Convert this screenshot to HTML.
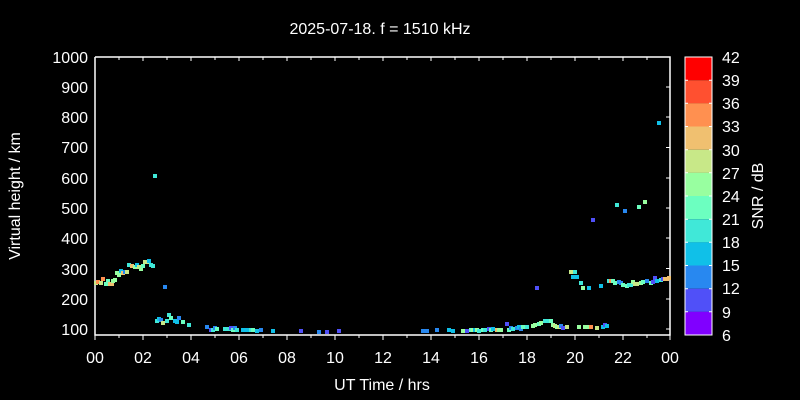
<!DOCTYPE html>
<html><head><meta charset="utf-8"><style>
html,body{margin:0;padding:0;background:#000;}
svg{display:block;}
text{font-family:"Liberation Sans",sans-serif;fill:#fff;}
</style></head><body>
<svg width="800" height="400" viewBox="0 0 800 400" xmlns="http://www.w3.org/2000/svg">
<rect width="800" height="400" fill="#000"/>
<text x="380" y="34" font-size="16" text-anchor="middle">2025-07-18. f = 1510 kHz</text>
<g stroke="#fff" stroke-width="1.5" fill="none">
<polyline points="95,57 95,335 670,335 670,57 95,57"/>
</g>
<g stroke="#fff" stroke-width="1">
<path d="M95,335v5M143,335v5M191,335v5M239,335v5M287,335v5M335,335v5M383,335v5M431,335v5M479,335v5M527,335v5M575,335v5M623,335v5M670,335v5"/>
<path d="M119,335v3M167,335v3M215,335v3M263,335v3M311,335v3M359,335v3M407,335v3M455,335v3M503,335v3M551,335v3M599,335v3M647,335v3"/>
<path d="M95,57v4M143,57v4M191,57v4M239,57v4M287,57v4M335,57v4M383,57v4M431,57v4M479,57v4M527,57v4M575,57v4M623,57v4"/>
<path d="M119,57v3M167,57v3M215,57v3M263,57v3M311,57v3M359,57v3M407,57v3M455,57v3M503,57v3M551,57v3M599,57v3M647,57v3"/>
<path d="M670,329h-4M670,299h-4M670,268.5h-4M670,238h-4M670,208h-4M670,178h-4M670,147.5h-4M670,117h-4M670,87h-4"/>
</g>
<g font-size="16" text-anchor="end">
<text x="88" y="335">100</text><text x="88" y="305">200</text><text x="88" y="275">300</text>
<text x="88" y="244">400</text><text x="88" y="214">500</text><text x="88" y="184">600</text>
<text x="88" y="153">700</text><text x="88" y="123">800</text><text x="88" y="93">900</text>
<text x="88" y="63">1000</text>
</g>
<g font-size="16" text-anchor="middle">
<text x="95" y="363">00</text><text x="143" y="363">02</text><text x="191" y="363">04</text>
<text x="239" y="363">06</text><text x="287" y="363">08</text><text x="335" y="363">10</text>
<text x="383" y="363">12</text><text x="431" y="363">14</text><text x="479" y="363">16</text>
<text x="527" y="363">18</text><text x="575" y="363">20</text><text x="623" y="363">22</text>
<text x="670" y="363">00</text>
</g>
<text x="382" y="390" font-size="16" text-anchor="middle">UT Time / hrs</text>
<text transform="translate(20,196) rotate(-90)" font-size="16" text-anchor="middle">Virtual height / km</text>
<g>
<rect x="685" y="57" width="27" height="23.2" fill="#ff0000"/>
<rect x="685" y="80.2" width="27" height="23.2" fill="#ff5030"/>
<rect x="685" y="103.3" width="27" height="23.2" fill="#ff9050"/>
<rect x="685" y="126.5" width="27" height="23.2" fill="#f0c070"/>
<rect x="685" y="149.7" width="27" height="23.2" fill="#c8e888"/>
<rect x="685" y="172.8" width="27" height="23.2" fill="#98ffa0"/>
<rect x="685" y="196" width="27" height="23.2" fill="#6cffc0"/>
<rect x="685" y="219.2" width="27" height="23.2" fill="#40e8d8"/>
<rect x="685" y="242.3" width="27" height="23.2" fill="#10c0e8"/>
<rect x="685" y="265.5" width="27" height="23.2" fill="#2888f0"/>
<rect x="685" y="288.7" width="27" height="23.2" fill="#5050f8"/>
<rect x="685" y="311.8" width="27" height="23.2" fill="#8000ff"/>
<rect x="685" y="57" width="27" height="278" fill="none" stroke="#fff" stroke-width="1"/>
<g stroke="#fff" stroke-width="1">
<path d="M685,80.2h3M685,103.3h3M685,126.5h3M685,149.7h3M685,172.8h3M685,196h3M685,219.2h3M685,242.3h3M685,265.5h3M685,288.7h3M685,311.8h3"/>
<path d="M712,80.2h-3M712,103.3h-3M712,126.5h-3M712,149.7h-3M712,172.8h-3M712,196h-3M712,219.2h-3M712,242.3h-3M712,265.5h-3M712,288.7h-3M712,311.8h-3"/>
</g>
</g>
<g font-size="16">
<text x="722" y="63">42</text><text x="722" y="86">39</text><text x="722" y="109">36</text>
<text x="722" y="132">33</text><text x="722" y="156">30</text><text x="722" y="179">27</text>
<text x="722" y="202">24</text><text x="722" y="225">21</text><text x="722" y="248">18</text>
<text x="722" y="271">15</text><text x="722" y="294">12</text><text x="722" y="318">9</text>
<text x="722" y="341">6</text>
</g>
<text transform="translate(763,196) rotate(-90)" font-size="16" text-anchor="middle">SNR / dB</text>
<g>
<rect x="94" y="281" width="4" height="4" fill="#c8e888"/>
<rect x="96" y="280" width="4" height="4" fill="#ff9050"/>
<rect x="99" y="281" width="4" height="4" fill="#c8e888"/>
<rect x="101" y="277" width="4" height="4" fill="#ff9050"/>
<rect x="104" y="282" width="4" height="4" fill="#6cffc0"/>
<rect x="106" y="279" width="4" height="4" fill="#6cffc0"/>
<rect x="108" y="282" width="4" height="4" fill="#f0c070"/>
<rect x="110" y="282" width="4" height="4" fill="#f0c070"/>
<rect x="111" y="279" width="4" height="4" fill="#98ffa0"/>
<rect x="113" y="278" width="4" height="4" fill="#98ffa0"/>
<rect x="115" y="271" width="4" height="4" fill="#98ffa0"/>
<rect x="117" y="273" width="4" height="4" fill="#98ffa0"/>
<rect x="119" y="269" width="4" height="4" fill="#10c0e8"/>
<rect x="121" y="271" width="4" height="4" fill="#f0c070"/>
<rect x="123" y="270" width="4" height="4" fill="#2888f0"/>
<rect x="125" y="270" width="4" height="4" fill="#c8e888"/>
<rect x="127" y="263" width="4" height="4" fill="#40e8d8"/>
<rect x="130" y="264" width="4" height="4" fill="#f0c070"/>
<rect x="133" y="265" width="4" height="4" fill="#98ffa0"/>
<rect x="135" y="263" width="4" height="4" fill="#10c0e8"/>
<rect x="137" y="265" width="4" height="4" fill="#c8e888"/>
<rect x="139" y="267" width="4" height="4" fill="#98ffa0"/>
<rect x="141" y="264" width="4" height="4" fill="#6cffc0"/>
<rect x="143" y="260" width="4" height="4" fill="#c8e888"/>
<rect x="145" y="260" width="4" height="4" fill="#c8e888"/>
<rect x="147" y="259" width="4" height="4" fill="#10c0e8"/>
<rect x="149" y="263" width="4" height="4" fill="#40e8d8"/>
<rect x="151" y="264" width="4" height="4" fill="#40e8d8"/>
<rect x="153" y="174" width="4" height="4" fill="#40e8d8"/>
<rect x="163" y="285" width="4" height="4" fill="#2888f0"/>
<rect x="155" y="319" width="4" height="4" fill="#40e8d8"/>
<rect x="157" y="317" width="4" height="4" fill="#10c0e8"/>
<rect x="159" y="318" width="4" height="4" fill="#2888f0"/>
<rect x="161" y="321" width="4" height="4" fill="#c8e888"/>
<rect x="165" y="319" width="4" height="4" fill="#40e8d8"/>
<rect x="167" y="313" width="4" height="4" fill="#40e8d8"/>
<rect x="169" y="316" width="4" height="4" fill="#6cffc0"/>
<rect x="173" y="319" width="4" height="4" fill="#10c0e8"/>
<rect x="175" y="320" width="4" height="4" fill="#10c0e8"/>
<rect x="177" y="316" width="4" height="4" fill="#2888f0"/>
<rect x="181" y="320" width="4" height="4" fill="#6cffc0"/>
<rect x="187" y="323" width="4" height="4" fill="#40e8d8"/>
<rect x="205" y="325" width="4" height="4" fill="#2888f0"/>
<rect x="209" y="328" width="4" height="4" fill="#5050f8"/>
<rect x="211" y="328" width="4" height="4" fill="#40e8d8"/>
<rect x="213" y="326" width="4" height="4" fill="#2888f0"/>
<rect x="215" y="327" width="4" height="4" fill="#6cffc0"/>
<rect x="223" y="327" width="4" height="4" fill="#40e8d8"/>
<rect x="227" y="327" width="4" height="4" fill="#40e8d8"/>
<rect x="229" y="326" width="4" height="4" fill="#5050f8"/>
<rect x="231" y="328" width="4" height="4" fill="#6cffc0"/>
<rect x="233" y="326" width="4" height="4" fill="#2888f0"/>
<rect x="235" y="328" width="4" height="4" fill="#40e8d8"/>
<rect x="241" y="328" width="4" height="4" fill="#10c0e8"/>
<rect x="245" y="328" width="4" height="4" fill="#10c0e8"/>
<rect x="249" y="328" width="4" height="4" fill="#40e8d8"/>
<rect x="251" y="328" width="4" height="4" fill="#6cffc0"/>
<rect x="255" y="329" width="4" height="4" fill="#10c0e8"/>
<rect x="259" y="328" width="4" height="4" fill="#2888f0"/>
<rect x="271" y="329" width="4" height="4" fill="#10c0e8"/>
<rect x="299" y="329" width="4" height="4" fill="#5050f8"/>
<rect x="317" y="330" width="4" height="4" fill="#2888f0"/>
<rect x="325" y="330" width="4" height="4" fill="#5050f8"/>
<rect x="337" y="329" width="4" height="4" fill="#5050f8"/>
<rect x="421" y="329" width="4" height="4" fill="#2888f0"/>
<rect x="425" y="329" width="4" height="4" fill="#2888f0"/>
<rect x="435" y="328" width="4" height="4" fill="#2888f0"/>
<rect x="447" y="328" width="4" height="4" fill="#10c0e8"/>
<rect x="451" y="329" width="4" height="4" fill="#10c0e8"/>
<rect x="461" y="329" width="4" height="4" fill="#98ffa0"/>
<rect x="465" y="329" width="4" height="4" fill="#5050f8"/>
<rect x="469" y="328" width="4" height="4" fill="#6cffc0"/>
<rect x="471" y="328" width="4" height="4" fill="#98ffa0"/>
<rect x="473" y="328" width="4" height="4" fill="#10c0e8"/>
<rect x="475" y="328" width="4" height="4" fill="#98ffa0"/>
<rect x="477" y="329" width="4" height="4" fill="#40e8d8"/>
<rect x="481" y="328" width="4" height="4" fill="#6cffc0"/>
<rect x="483" y="328" width="4" height="4" fill="#40e8d8"/>
<rect x="487" y="327" width="4" height="4" fill="#5050f8"/>
<rect x="489" y="328" width="4" height="4" fill="#6cffc0"/>
<rect x="491" y="327" width="4" height="4" fill="#10c0e8"/>
<rect x="495" y="328" width="4" height="4" fill="#f0c070"/>
<rect x="497" y="328" width="4" height="4" fill="#98ffa0"/>
<rect x="499" y="328" width="4" height="4" fill="#98ffa0"/>
<rect x="505" y="322" width="4" height="4" fill="#5050f8"/>
<rect x="507" y="328" width="4" height="4" fill="#6cffc0"/>
<rect x="509" y="326" width="4" height="4" fill="#2888f0"/>
<rect x="511" y="327" width="4" height="4" fill="#40e8d8"/>
<rect x="515" y="326" width="4" height="4" fill="#2888f0"/>
<rect x="517" y="325" width="4" height="4" fill="#10c0e8"/>
<rect x="519" y="327" width="4" height="4" fill="#2888f0"/>
<rect x="521" y="325" width="4" height="4" fill="#6cffc0"/>
<rect x="525" y="325" width="4" height="4" fill="#40e8d8"/>
<rect x="531" y="324" width="4" height="4" fill="#98ffa0"/>
<rect x="533" y="323" width="4" height="4" fill="#98ffa0"/>
<rect x="537" y="322" width="4" height="4" fill="#6cffc0"/>
<rect x="539" y="321" width="4" height="4" fill="#98ffa0"/>
<rect x="535" y="286" width="4" height="4" fill="#5050f8"/>
<rect x="543" y="319" width="4" height="4" fill="#40e8d8"/>
<rect x="547" y="319" width="4" height="4" fill="#40e8d8"/>
<rect x="549" y="319" width="4" height="4" fill="#6cffc0"/>
<rect x="551" y="323" width="4" height="4" fill="#98ffa0"/>
<rect x="553" y="324" width="4" height="4" fill="#c8e888"/>
<rect x="555" y="325" width="4" height="4" fill="#98ffa0"/>
<rect x="557" y="325" width="4" height="4" fill="#c8e888"/>
<rect x="559" y="324" width="4" height="4" fill="#2888f0"/>
<rect x="561" y="326" width="4" height="4" fill="#5050f8"/>
<rect x="565" y="325" width="4" height="4" fill="#c8e888"/>
<rect x="569" y="270" width="4" height="4" fill="#c8e888"/>
<rect x="573" y="270" width="4" height="4" fill="#40e8d8"/>
<rect x="571" y="275" width="4" height="4" fill="#10c0e8"/>
<rect x="575" y="275" width="4" height="4" fill="#10c0e8"/>
<rect x="577" y="325" width="4" height="4" fill="#98ffa0"/>
<rect x="579" y="281" width="4" height="4" fill="#40e8d8"/>
<rect x="581" y="286" width="4" height="4" fill="#98ffa0"/>
<rect x="583" y="325" width="4" height="4" fill="#98ffa0"/>
<rect x="585" y="325" width="4" height="4" fill="#98ffa0"/>
<rect x="587" y="286" width="4" height="4" fill="#10c0e8"/>
<rect x="589" y="325" width="4" height="4" fill="#ff9050"/>
<rect x="591" y="218" width="4" height="4" fill="#5050f8"/>
<rect x="595" y="326" width="4" height="4" fill="#c8e888"/>
<rect x="599" y="284" width="4" height="4" fill="#10c0e8"/>
<rect x="601" y="325" width="4" height="4" fill="#10c0e8"/>
<rect x="603" y="323" width="4" height="4" fill="#5050f8"/>
<rect x="605" y="324" width="4" height="4" fill="#10c0e8"/>
<rect x="607" y="279" width="4" height="4" fill="#40e8d8"/>
<rect x="609" y="279" width="4" height="4" fill="#ff9050"/>
<rect x="611" y="279" width="4" height="4" fill="#6cffc0"/>
<rect x="613" y="281" width="4" height="4" fill="#6cffc0"/>
<rect x="615" y="203" width="4" height="4" fill="#40e8d8"/>
<rect x="617" y="280" width="4" height="4" fill="#2888f0"/>
<rect x="619" y="281" width="4" height="4" fill="#2888f0"/>
<rect x="621" y="283" width="4" height="4" fill="#6cffc0"/>
<rect x="623" y="209" width="4" height="4" fill="#2888f0"/>
<rect x="625" y="284" width="4" height="4" fill="#6cffc0"/>
<rect x="627" y="283" width="4" height="4" fill="#40e8d8"/>
<rect x="629" y="283" width="4" height="4" fill="#40e8d8"/>
<rect x="631" y="280" width="4" height="4" fill="#98ffa0"/>
<rect x="633" y="282" width="4" height="4" fill="#c8e888"/>
<rect x="635" y="282" width="4" height="4" fill="#c8e888"/>
<rect x="637" y="205" width="4" height="4" fill="#6cffc0"/>
<rect x="639" y="281" width="4" height="4" fill="#98ffa0"/>
<rect x="641" y="280" width="4" height="4" fill="#6cffc0"/>
<rect x="643" y="200" width="4" height="4" fill="#98ffa0"/>
<rect x="645" y="279" width="4" height="4" fill="#2888f0"/>
<rect x="649" y="281" width="4" height="4" fill="#6cffc0"/>
<rect x="651" y="280" width="4" height="4" fill="#5050f8"/>
<rect x="653" y="276" width="4" height="4" fill="#5050f8"/>
<rect x="655" y="279" width="4" height="4" fill="#10c0e8"/>
<rect x="657" y="121" width="4" height="4" fill="#10c0e8"/>
<rect x="659" y="278" width="4" height="4" fill="#40e8d8"/>
<rect x="661" y="277" width="4" height="4" fill="#5050f8"/>
<rect x="663" y="277" width="4" height="4" fill="#f0c070"/>
<rect x="665" y="277" width="4" height="4" fill="#f0c070"/>
<rect x="667" y="276" width="4" height="4" fill="#f0c070"/>
</g>
</svg>
</body></html>
